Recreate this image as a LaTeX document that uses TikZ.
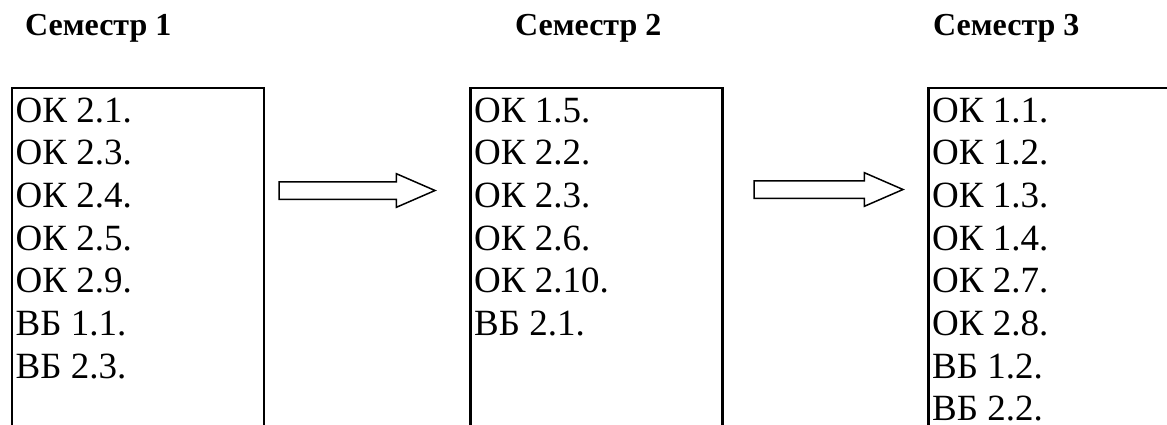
\documentclass[tikz,border=0pt]{standalone}
\usepackage{fontspec}
\setmainfont{Liberation Serif}
\usetikzlibrary{shapes.arrows,positioning}

\tikzset{
	heading/.style = {font=\fontsize{32}{38}\selectfont\bfseries, inner sep=0, anchor=base west},
	semestrbox/.style = {draw, line width=2.5pt, minimum height=500pt, anchor=north west, inner sep=0},
	itemlist/.style = {font=\fontsize{37}{42.7}\selectfont, align=left, anchor=north west, inner xsep=5pt, inner ysep=10.3pt},
	blockarrow/.style = {shape=single arrow, draw, line width=1.5pt, inner xsep=0, inner ysep=8pt, outer sep=0,
		single arrow head extend=8pt, single arrow tip angle=47, minimum width=0pt, anchor=tail}
}

\begin{document}
\begin{tikzpicture}[x=1pt, y=-1pt]
	\useasboundingbox (0,0) rectangle (1167,425);
	\clip (0,0) rectangle (1167,425);

	\node(sem1) [heading] at (25,36) {Семестр 1};
	\node(sem2) [heading] at (515,36) {Семестр 2};
	\node(sem3) [heading] at (933,36) {Семестр 3};

	\node(box1) [semestrbox, minimum width=252pt] at (10.5,87) {};
	\node(box2) [semestrbox, minimum width=252pt] at (469,87) {};
	\node(box3) [semestrbox, minimum width=300pt] at (927,87) {};

	\node(list1) [itemlist] at (box1.north west) {ОК 2.1.\\ОК 2.3.\\ОК 2.4.\\ОК 2.5.\\ОК 2.9.\\ВБ 1.1.\\ВБ 2.3.};
	\node(list2) [itemlist] at (box2.north west) {ОК 1.5.\\ОК 2.2.\\ОК 2.3.\\ОК 2.6.\\ОК 2.10.\\ВБ 2.1.};
	\node(list3) [itemlist] at (box3.north west) {ОК 1.1.\\ОК 1.2.\\ОК 1.3.\\ОК 1.4.\\ОК 2.7.\\ОК 2.8.\\ВБ 1.2.\\ВБ 2.2.};

	\node(arr1) [blockarrow, minimum height=156pt] at (279,190.5) {};
	\node(arr2) [blockarrow, minimum height=149pt] at (754,189.5) {};
\end{tikzpicture}
\end{document}
